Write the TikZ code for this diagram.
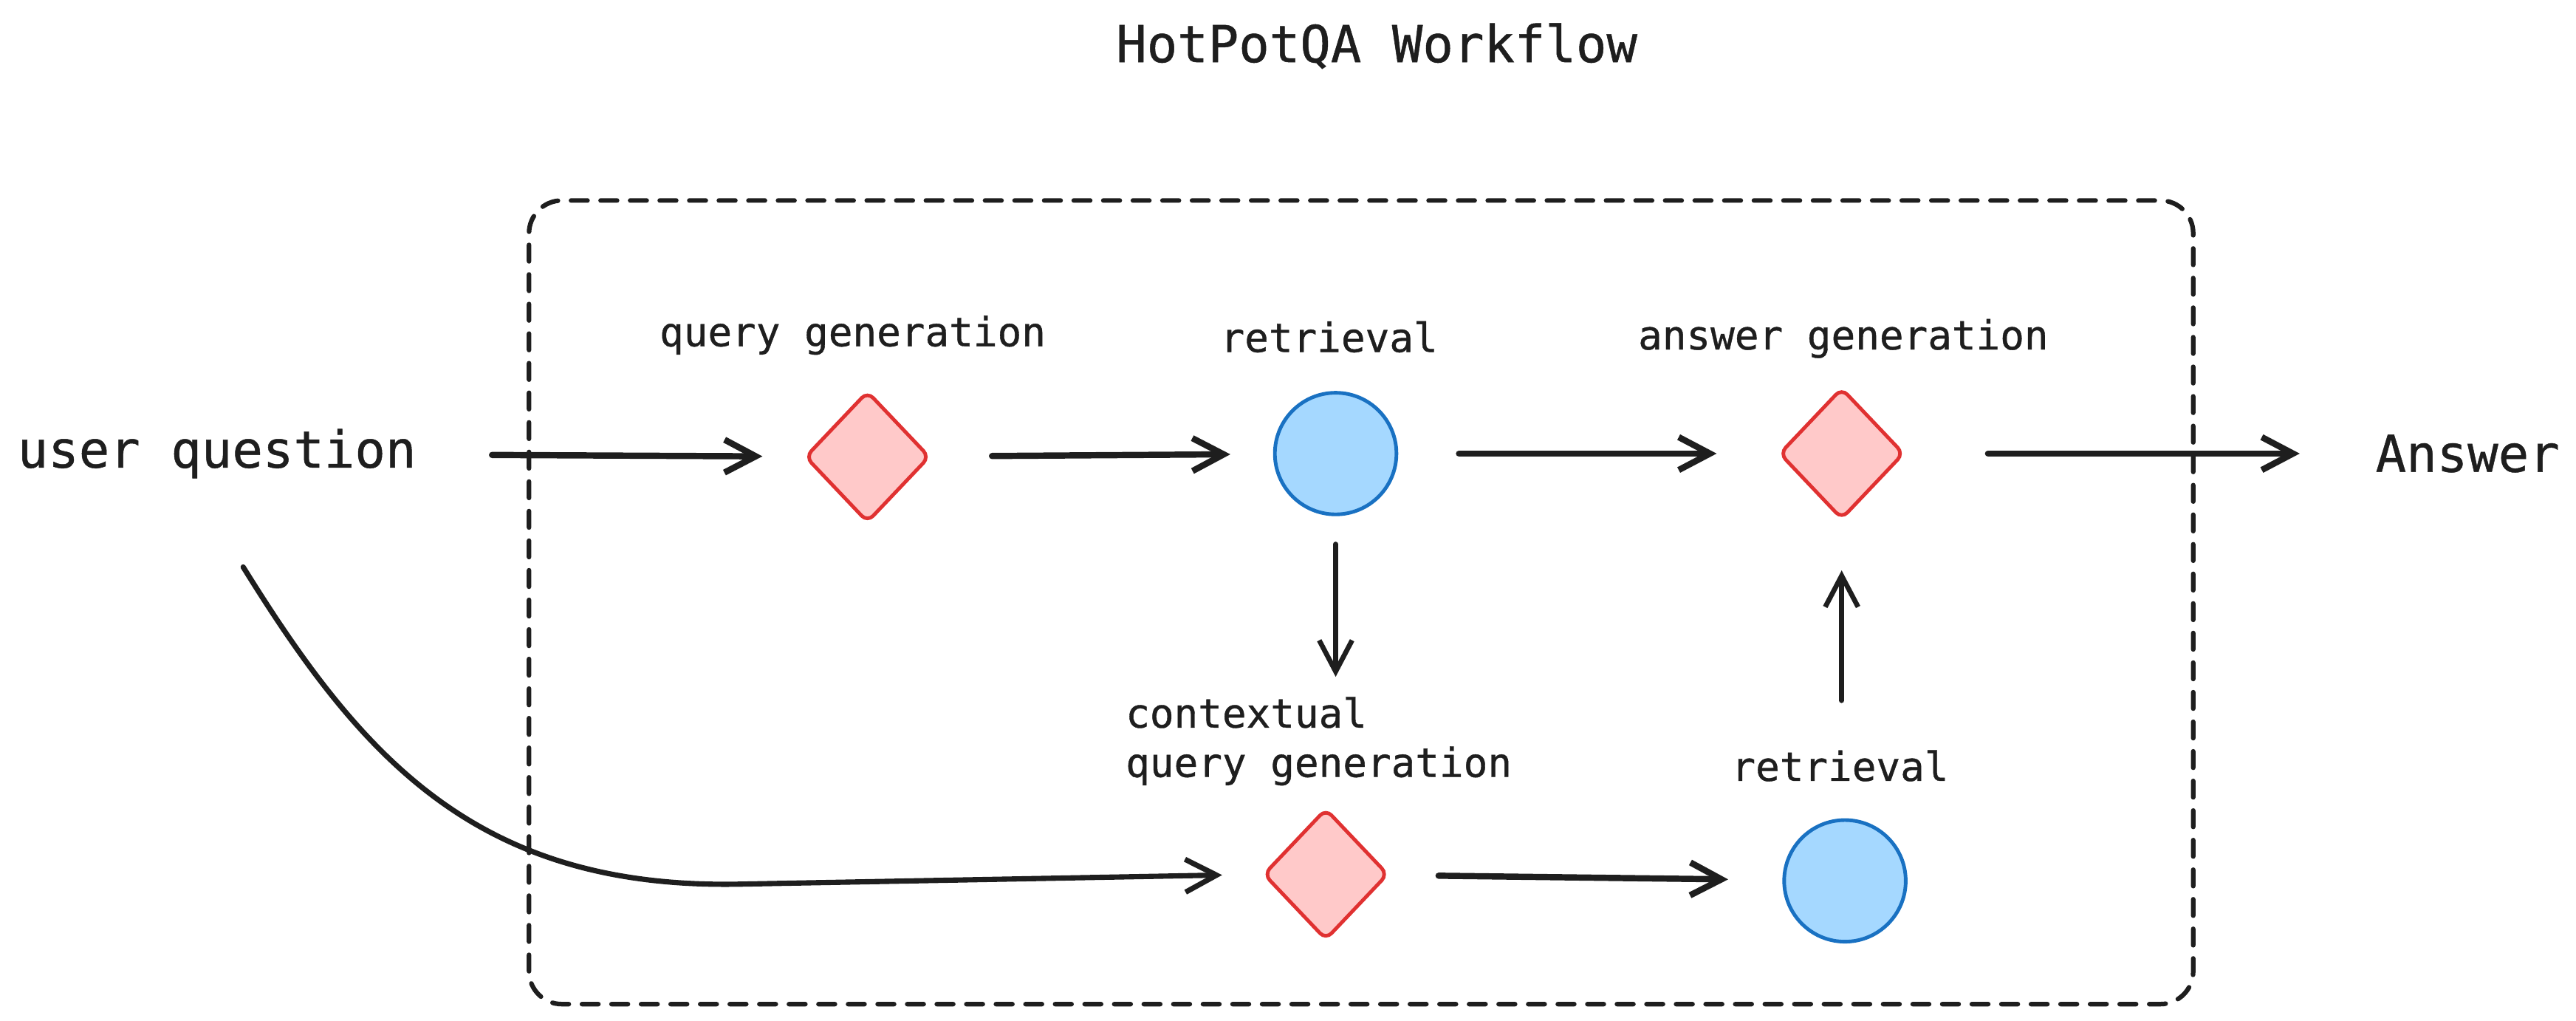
\documentclass[tikz,border=0pt]{standalone}
\usepackage{fontspec}
\setmonofont[UprightFeatures={FakeBold=0.7}]{DejaVu Sans Mono}
\usetikzlibrary{shapes.geometric,arrows.meta}
\definecolor{ink}{HTML}{1E1E1E}
\definecolor{llmred}{HTML}{E03131}
\definecolor{llmpink}{HTML}{FFC9C9}
\definecolor{retblue}{HTML}{1971C2}
\definecolor{retsky}{HTML}{A5D8FF}

\begin{document}
\begin{tikzpicture}[x=10pt,y=10pt]
        \tikzset{llm/.style = {shape=diamond,draw=llmred,fill=llmpink,line width=2.2pt,rounded corners=5pt,minimum width=76pt,minimum height=80pt,inner sep=0pt}}
        \tikzset{search/.style = {shape=circle,draw=retblue,fill=retsky,line width=2.2pt,minimum size=74pt,inner sep=0pt}}
        \tikzset{smalltext/.style = {text=ink,font=\ttfamily\fontsize{24.4}{30}\selectfont,inner sep=0pt}}
        \tikzset{bigtext/.style = {text=ink,font=\ttfamily\fontsize{31}{36}\selectfont,inner sep=0pt}}
        \tikzset{edge/.style = {-{Straight Barb[length=19pt,width=20pt]},line width=3.8pt,line cap=round,draw=ink}}
        \tikzset{thin edge/.style = {edge,line width=3pt}}
        \tikzset{group/.style = {draw=ink,line width=2.8pt,dash pattern=on 10pt off 8pt,line cap=round,rounded corners=20pt}}
        \useasboundingbox (0,0) rectangle (156.8,62.1);
        % frame
        \draw[group] (32.2,1.0) rectangle (133.5,49.9);
        % texts
        \node[bigtext] (title) at (83.8,59.3) {HotPotQA Workflow};
        \node[bigtext] (uq) at (13.2,34.5) {user question};
        \node[bigtext] (ans) at (150.2,34.5) {Answer};
        \node[smalltext] (qgtext) at (51.9,41.7) {query generation};
        \node[smalltext] (rettext) at (80.9,41.6) {retrieval};
        \node[smalltext] (agtext) at (112.2,41.5) {answer generation};
        \node[smalltext,align=left,anchor=west] (cqgtext) at (68.5,17.0) {contextual\\query generation};
        \node[smalltext] (rettwotext) at (112.0,15.5) {retrieval};
        % vertices
        \node[llm] (qg) at (52.8,34.3) {};
        \node[search] (ret) at (81.3,34.5) {};
        \node[llm] (ag) at (112.1,34.5) {};
        \node[llm] (cqg) at (80.7,8.9) {};
        \node[search] (rettwo) at (112.3,8.5) {};
        \coordinate (qstart) at (14.8,27.6);
        % edges
        \draw[edge,shorten <=46pt,shorten >=25pt] (uq) -- (qg);
        \draw[edge,shorten <=37pt,shorten >=26pt] (qg) -- (ret);
        \draw[edge,shorten <=37pt,shorten >=37pt] (ret) -- (ag);
        \draw[edge,shorten <=50pt,shorten >=46pt] (ag) -- (ans);
        \draw[thin edge,shorten <=17pt,shorten >=12pt] (ret.south) -- (ret.south |- cqgtext.north);
        \draw[thin edge,shorten <=30pt,shorten >=30pt] (rettwotext.north -| ag.south) -- (ag.south);
        \draw[edge,shorten <=30pt,shorten >=33pt] (cqg) -- (rettwo);
        \draw[edge,line width=3.2pt,shorten >=24pt] (qstart) .. controls (22,16) and (29,8.0) .. (45,8.3) -- (cqg.west);
\end{tikzpicture}
\end{document}
